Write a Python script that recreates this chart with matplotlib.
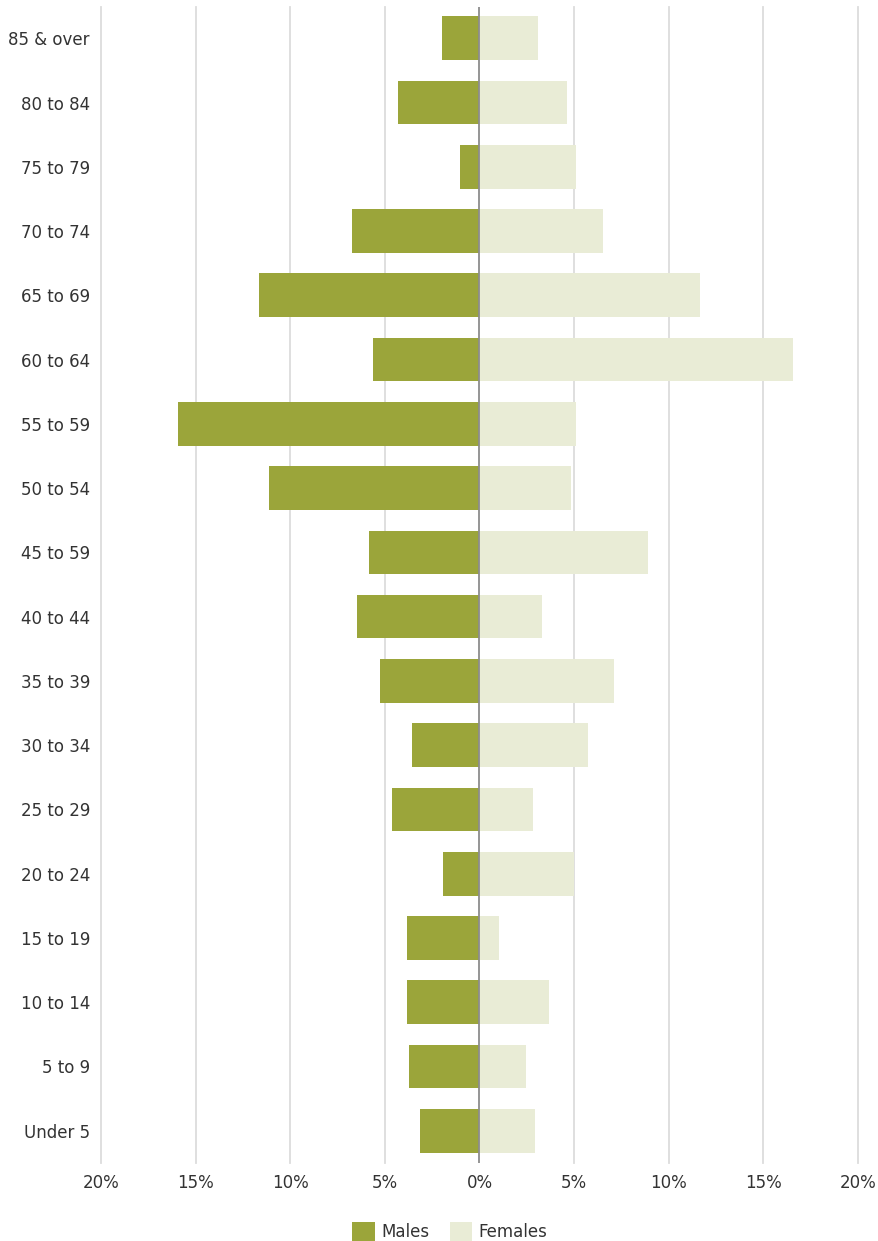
import matplotlib
matplotlib.use("Agg")
import matplotlib.pyplot as plt
import numpy as np

# age groups, top to bottom as in the chart
ages = ["85 & over", "80 to 84", "75 to 79", "70 to 74", "65 to 69", "60 to 64",
        "55 to 59", "50 to 54", "45 to 59", "40 to 44", "35 to 39", "30 to 34",
        "25 to 29", "20 to 24", "15 to 19", "10 to 14", "5 to 9", "Under 5"]
males = [2.0, 4.3, 1.05, 6.75, 11.65, 5.65, 15.95, 11.15, 5.85, 6.45, 5.25, 3.55,
         4.65, 1.95, 3.85, 3.85, 3.75, 3.15]
females = [3.1, 4.65, 5.1, 6.55, 11.65, 16.55, 5.1, 4.85, 8.9, 3.3, 7.1, 5.75,
           2.85, 5.0, 1.05, 3.65, 2.45, 2.95]
xticks = [-20, -15, -10, -5, 0, 5, 10, 15, 20]
xlabels = ["20%", "15%", "10%", "5%", "0%", "5%", "10%", "15%", "20%"]

male_col = "#9ba53a"
female_col = "#e9ecd6"

fig = plt.figure(figsize=(8.79, 12.41), dpi=100)
ax = fig.add_axes([0.115, 0.063, 0.861, 0.931])

y = np.arange(len(ages))[::-1]
ax.barh(y, [-m for m in males], height=0.68, color=male_col, label="Males", zorder=2)
ax.barh(y, females, height=0.68, color=female_col, label="Females", zorder=2)

ax.set_xlim(-20, 20)
ax.set_ylim(-0.5, 17.48)
ax.set_xticks(xticks)
ax.set_xticklabels(xlabels)
ax.set_yticks(y)
ax.set_yticklabels(ages)
ax.tick_params(length=0, labelsize=12, colors="#333333")
ax.tick_params(axis="x", pad=8)
ax.tick_params(axis="y", pad=8)

# vertical grid lines, not clipped so the outer ones show fully
for t in xticks:
    if t != 0:
        ax.axvline(t, color="#dcdcdc", linewidth=1.3, zorder=0, clip_on=False)
ax.axvline(0, color="#8c8c8c", linewidth=1.3, zorder=3)
for s in ax.spines.values():
    s.set_visible(False)

fig.legend(loc="lower center", bbox_to_anchor=(0.512, -0.013), ncol=2, frameon=False,
           fontsize=12, handlelength=1.35, handleheight=1.5, handletextpad=0.4,
           columnspacing=1.2, labelcolor="#333333")

plt.savefig("out.png", dpi=100)
plt.close()
